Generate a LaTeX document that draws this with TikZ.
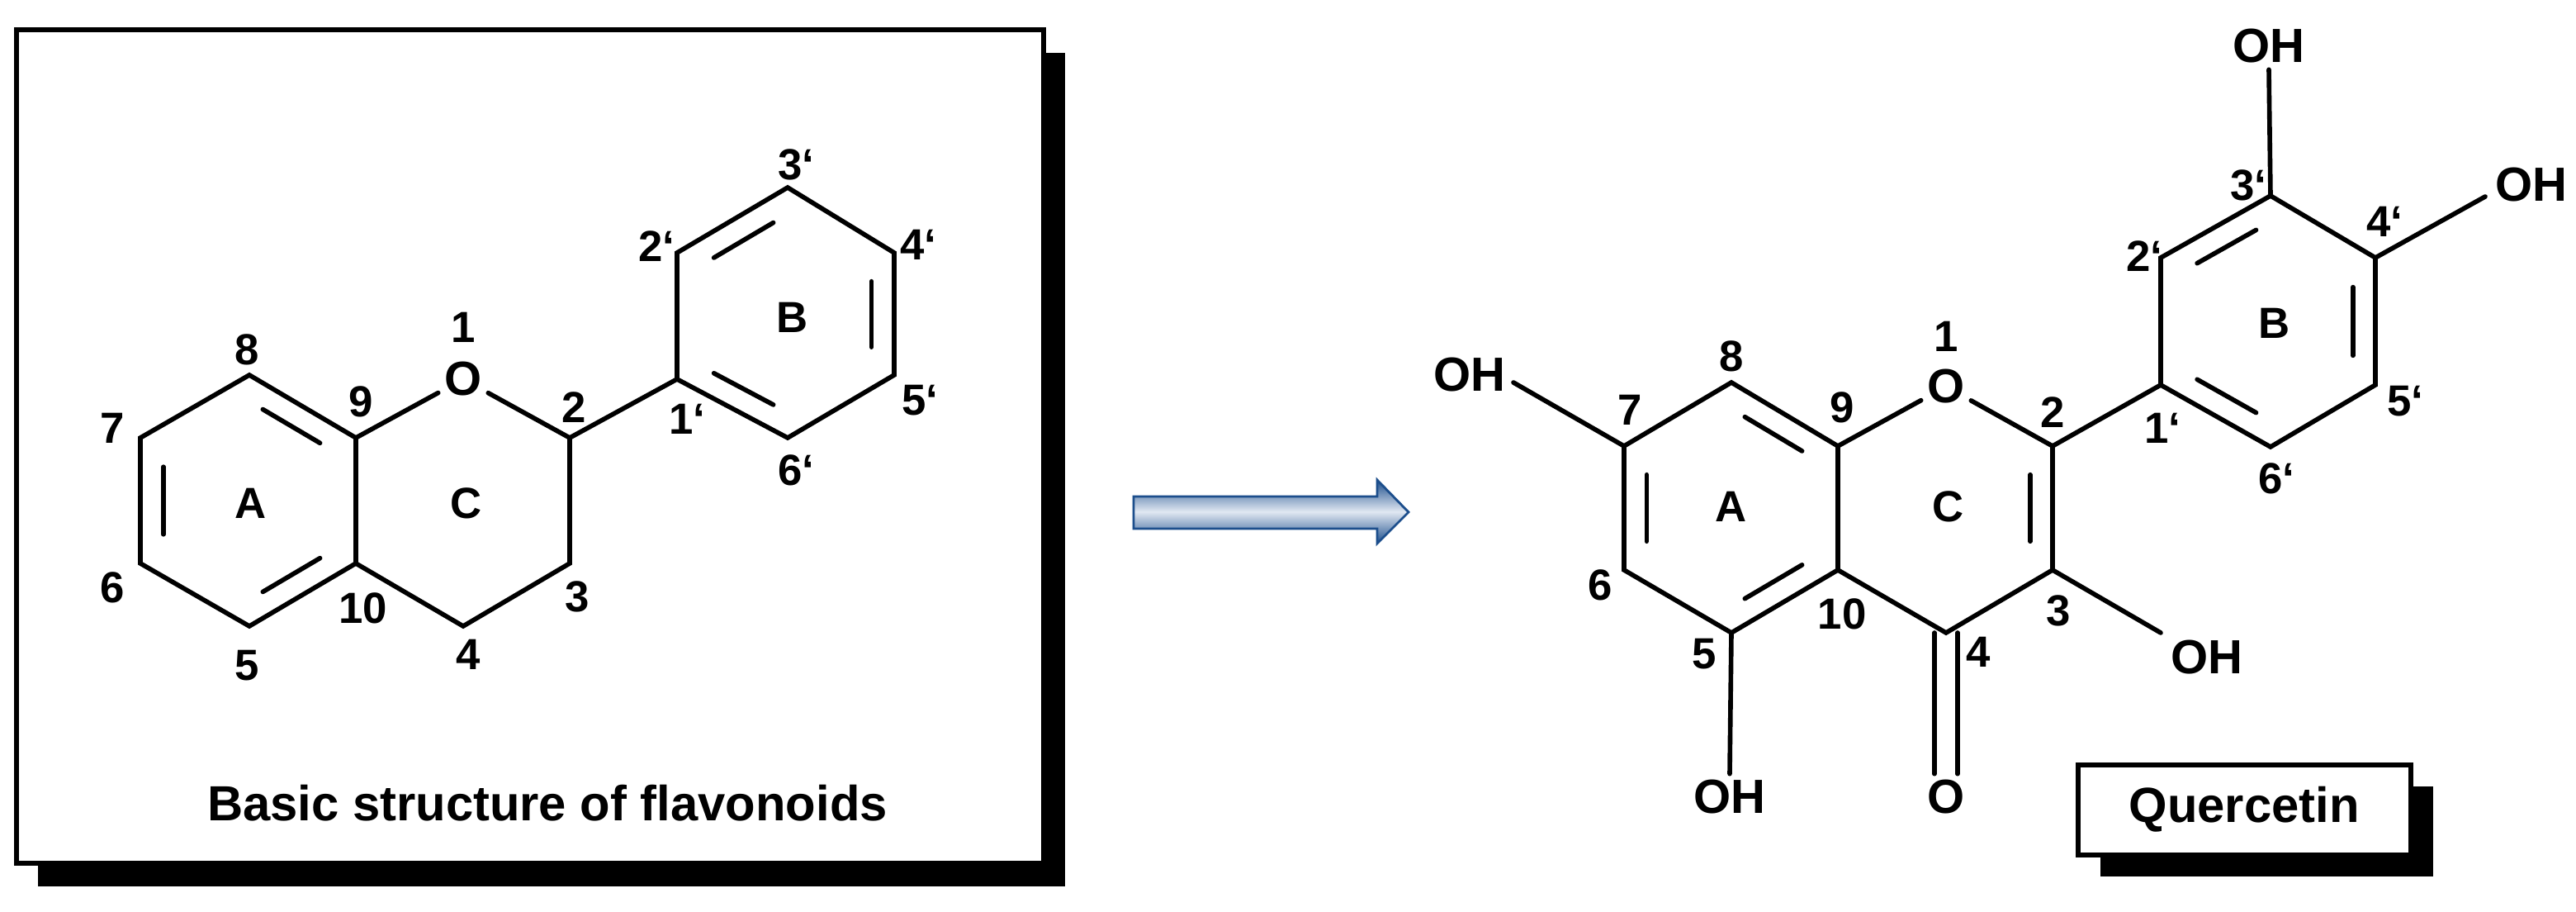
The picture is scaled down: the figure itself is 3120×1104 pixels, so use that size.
\documentclass[tikz,border=0pt]{standalone}
\usepackage{fontspec}
\setmainfont{Liberation Sans}
\usetikzlibrary{calc}
\definecolor{arrblue}{RGB}{28,78,140}
\definecolor{arrlight}{RGB}{225,232,242}
\newcommand{\pr}{\char96}
\begin{document}
\begin{tikzpicture}[x=0.01cm,y=-0.01cm,
  bond/.style={line width=1.6pt,line cap=round},
  lab/.style={font=\bfseries\fontsize{15}{15}\selectfont,inner sep=0pt},
  atom/.style={font=\bfseries\fontsize{16.5}{16.5}\selectfont,inner sep=2pt},
  frame/.style={draw,line width=1.9pt,fill=white}]
\useasboundingbox (0,0) rectangle (3120,1104);
\newcommand{\dbl}[3]{\draw[bond] ($($(#1)!0.16!(#2)$)!0.21!(#3)$) -- ($($(#1)!0.84!(#2)$)!0.21!(#3)$);}
% ---------- left box ----------
\fill (46,64) rectangle (1290,1073);
\draw[frame] (20,36) rectangle (1264,1045);
\coordinate (a5) at (302,758); \coordinate (a6) at (170,682); \coordinate (a7) at (170,530);
\coordinate (a8) at (302,454); \coordinate (a9) at (431,530); \coordinate (a10) at (431,682);
\node[atom] (aO) at (561,459) {O};
\coordinate (a2) at (690,530); \coordinate (a3) at (690,682); \coordinate (a4) at (561,758);
\coordinate (b1) at (820,459); \coordinate (b2) at (820,306); \coordinate (b3) at (954,227);
\coordinate (b4) at (1083,306); \coordinate (b5) at (1083,454); \coordinate (b6) at (954,530);
\coordinate (cA) at (302,606); \coordinate (cB) at (952,382);
\draw[bond] (a5)--(a6)--(a7)--(a8)--(a9)--(a10)--cycle;
\draw[bond] (a9)--(aO)--(a2)--(a3)--(a4)--(a10);
\draw[bond] (a2)--(b1);
\draw[bond] (b1)--(b2)--(b3)--(b4)--(b5)--(b6)--cycle;
\dbl{a8}{a9}{cA}\dbl{a7}{a6}{cA}\dbl{a10}{a5}{cA}
\dbl{b2}{b3}{cB}\dbl{b4}{b5}{cB}\dbl{b1}{b6}{cB}
\node[lab] (l1) at (561,396) {1};
\node[lab] (l8) at (299,423) {8};
\node[lab] (l9) at (437,486) {9};
\node[lab] (l7) at (136,518) {7};
\node[lab] (l2) at (695,493) {2};
\node[lab] (lA) at (304,609) {A};
\node[lab] (lC) at (565,609) {C};
\node[lab] (l6) at (136,711) {6};
\node[lab] (l10) at (440,736) {10};
\node[lab] (l3) at (699,722) {3};
\node[lab] (l5) at (299,806) {5};
\node[lab] (l4) at (567,792) {4};
\node[lab] (l1p) at (832,507) {1\pr};
\node[lab] (l2p) at (795,298) {2\pr};
\node[lab] (l3p) at (964,199) {3\pr};
\node[lab] (l4p) at (1112,296) {4\pr};
\node[lab] (lB) at (960,384) {B};
\node[lab] (l5p) at (1114,485) {5\pr};
\node[lab] (l6p) at (964,569) {6\pr};
\node[font=\bfseries\fontsize{17}{17}\selectfont] (title) at (663,972) {Basic structure of flavonoids};
% ---------- arrow ----------
\draw[draw=arrblue,line width=0.8pt,top color=arrblue,bottom color=arrblue,middle color=arrlight]
  (1373,601) -- (1668,601) -- (1668,581) -- (1706,620) -- (1668,658) -- (1668,640) -- (1373,640) -- cycle;
% ---------- quercetin ----------
\coordinate (q7) at (1967,540); \coordinate (q8) at (2097,463); \coordinate (q9) at (2226,540);
\coordinate (q10) at (2226,690); \coordinate (q5) at (2097,766); \coordinate (q6) at (1967,690);
\node[atom] (qO) at (2357,468) {O};
\coordinate (q2) at (2486,540); \coordinate (q3) at (2486,690); \coordinate (q4) at (2357,766);
\coordinate (p1) at (2617,466); \coordinate (p2) at (2617,312); \coordinate (p3) at (2750,237);
\coordinate (p4) at (2877,312); \coordinate (p5) at (2877,466); \coordinate (p6) at (2750,541);
\coordinate (qcA) at (2097,615); \coordinate (qcC) at (2357,615); \coordinate (qcB) at (2747,389);
\draw[bond] (q5)--(q6)--(q7)--(q8)--(q9)--(q10)--cycle;
\draw[bond] (q9)--(qO)--(q2)--(q3)--(q4)--(q10);
\draw[bond] (q2)--(p1);
\draw[bond] (p1)--(p2)--(p3)--(p4)--(p5)--(p6)--cycle;
\dbl{q8}{q9}{qcA}\dbl{q7}{q6}{qcA}\dbl{q10}{q5}{qcA}
\dbl{q2}{q3}{qcC}
\dbl{p2}{p3}{qcB}\dbl{p4}{p5}{qcB}\dbl{p1}{p6}{qcB}
\node[atom] (oh3p) at (2748,56) {OH};
\node[atom] (oh4p) at (3066,224) {OH};
\node[atom] (oh7) at (1780,454) {OH};
\node[atom] (oh3) at (2673,796) {OH};
\node[atom] (oh5) at (2095,965) {OH};
\node[atom] (o4) at (2357,965) {O};
\coordinate (e4) at (3010,238);
\coordinate (e7) at (1833,463);
\coordinate (e3) at (2617,766);
\draw[bond] (p3)--(oh3p.south);
\draw[bond] (p4)--(e4);
\draw[bond] (q7)--(e7);
\draw[bond] (q3)--(e3);
\draw[bond] (q5)--(oh5.north);
\draw[bond] ($(q4)+(-14,0)$)--($(o4.north)+(-14,0)$);
\draw[bond] ($(q4)+(14,0)$)--($(o4.north)+(14,0)$);
\node[lab] at (2357,407) {1};
\node[lab] at (2097,431) {8};
\node[lab] at (1974,496) {7};
\node[lab] at (2231,493) {9};
\node[lab] at (2486,499) {2};
\node[lab] at (2097,613) {A};
\node[lab] at (2360,613) {C};
\node[lab] at (1938,708) {6};
\node[lab] at (2231,743) {10};
\node[lab] at (2493,739) {3};
\node[lab] at (2064,792) {5};
\node[lab] at (2396,789) {4};
\node[lab] at (2619,518) {1\pr};
\node[lab] at (2757,579) {6\pr};
\node[lab] at (2913,486) {5\pr};
\node[lab] at (2755,391) {B};
\node[lab] at (2597,310) {2\pr};
\node[lab] at (2723,224) {3\pr};
\node[lab] at (2888,268) {4\pr};
\fill (2544,952) rectangle (2947,1061);
\draw[frame] (2517,926) rectangle (2920,1035);
\node[font=\bfseries\fontsize{17}{17}\selectfont] (qn) at (2718,980) {Quercetin};
\end{tikzpicture}
\end{document}
